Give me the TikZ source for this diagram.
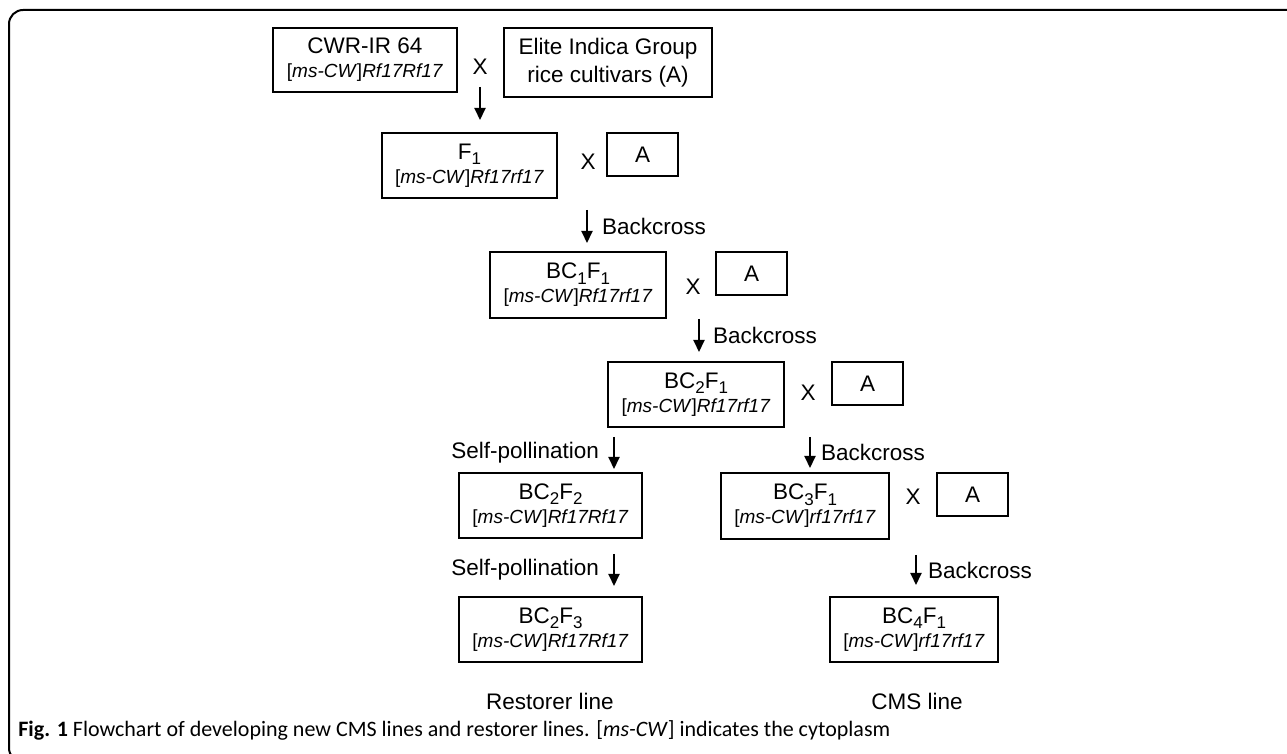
\documentclass[tikz,border=0pt]{standalone}
\usepackage{fontspec}
\setmainfont{Liberation Sans}
\newfontfamily\capfont{Carlito}
\usetikzlibrary{arrows.meta,positioning}

% genotype line under a generation name
\newcommand{\geno}[2]{{\fontsize{9.5}{11}\selectfont[\textit{ms-CW}]\textit{#1#2}}}
% lowered index for generation names
\newcommand{\ix}[1]{\raisebox{-2.6pt}{\fontsize{8.5}{9}\selectfont #1}}

\begin{document}
\begin{tikzpicture}[x=0.5pt, y=-0.5pt,
  font=\fontsize{11.25}{12}\selectfont,
  box/.style={draw, line width=1pt, inner sep=0pt, align=center},
  gen/.style={box, minimum height=32.5pt},
  abox/.style={box, minimum width=35.5pt, minimum height=21.5pt},
  cross/.style={inner sep=0pt},
  arr/.style={-{Triangle[length=6pt,width=5.5pt]}, line width=1pt},
  lbl/.style={inner sep=0pt}]
\useasboundingbox (0,0) rectangle (1287,754);
\draw[line width=1pt, rounded corners=7pt] (1300,10) -- (9,10) -- (9,762) -- (1300,762);

% parents
\node[box, minimum width=92pt, minimum height=32pt] (cwr) at (365,60)
  {CWR-IR 64\\\geno{Rf17}{Rf17}};
\node[box, minimum width=104pt, minimum height=34.5pt] (elite) at (608,62.5)
  {Elite Indica Group\\[2pt]rice cultivars (A)};
\node[cross] (x0) at (480,67) {X};

% generations
\node[gen, minimum width=87.5pt] (f1) at (469.5,165.5) {F\ix{1}\\\geno{Rf17}{rf17}};
\node[cross] (x1) at (588,162) {X};
\node[abox] (a1) at (642.5,154.5) {A};

\node[gen, minimum width=88pt, minimum height=33pt] (bc1) at (578,285)
  {BC\ix{1}F\ix{1}\\\geno{Rf17}{rf17}};
\node[cross] (x2) at (693,287) {X};
\node[abox] (a2) at (751.5,273.5) {A};

\node[gen, minimum width=88pt] (bc2) at (696,394.5)
  {BC\ix{2}F\ix{1}\\\geno{Rf17}{rf17}};
\node[cross] (x3) at (808,393) {X};
\node[abox] (a3) at (867.5,383.5) {A};

\node[gen, minimum width=91.5pt] (bc22) at (550.5,505.5)
  {BC\ix{2}F\ix{2}\\\geno{Rf17}{Rf17}};
\node[gen, minimum width=84pt, minimum height=33pt] (bc3) at (805,506)
  {BC\ix{3}F\ix{1}\\\geno{rf17}{rf17}};
\node[cross] (x4) at (913,497) {X};
\node[abox] (a4) at (972.5,494.5) {A};

\node[gen, minimum width=91.5pt] (bc23) at (550.5,629.5)
  {BC\ix{2}F\ix{3}\\\geno{Rf17}{Rf17}};
\node[gen, minimum width=84pt] (bc4) at (914,629.5)
  {BC\ix{4}F\ix{1}\\\geno{rf17}{rf17}};

\node (rest) at (550,701) {Restorer line};
\node (cms) at (917,701) {CMS line};

% arrow ends
\coordinate (p0) at (480,87);  \coordinate (q0) at (480,120);
\coordinate (p1) at (587,210); \coordinate (q1) at (587,243);
\coordinate (p2) at (699,319); \coordinate (q2) at (699,352);
\coordinate (p3) at (810,437); \coordinate (q3) at (810,468);
\coordinate (p4) at (614,437); \coordinate (q4) at (614,469);
\coordinate (p5) at (614,554); \coordinate (q5) at (614,586);
\coordinate (p6) at (916,555); \coordinate (q6) at (916,585);

\draw[arr] (p0) -- (q0);
\draw[arr] (p1) -- node[lbl, right=7pt] {Backcross} (q1);
\draw[arr] (p2) -- node[lbl, right=6.5pt] {Backcross} (q2);
\draw[arr] (p3) -- node[lbl, right=5pt] {Backcross} (q3);
\draw[arr] (p4) -- node[lbl, left=7pt] {Self-pollination} (q4);
\draw[arr] (p5) -- node[lbl, left=7pt] {Self-pollination} (q5);
\draw[arr] (p6) -- node[lbl, right=5.5pt] {Backcross} (q6);

\node[anchor=base west, inner sep=0pt, font=\capfont\fontsize{11}{13}\selectfont] (cap) at (18,736)
  {\textbf{Fig. 1} Flowchart of developing new CMS lines and restorer lines. [\textit{ms-CW}] indicates the cytoplasm};
\end{tikzpicture}
\end{document}
